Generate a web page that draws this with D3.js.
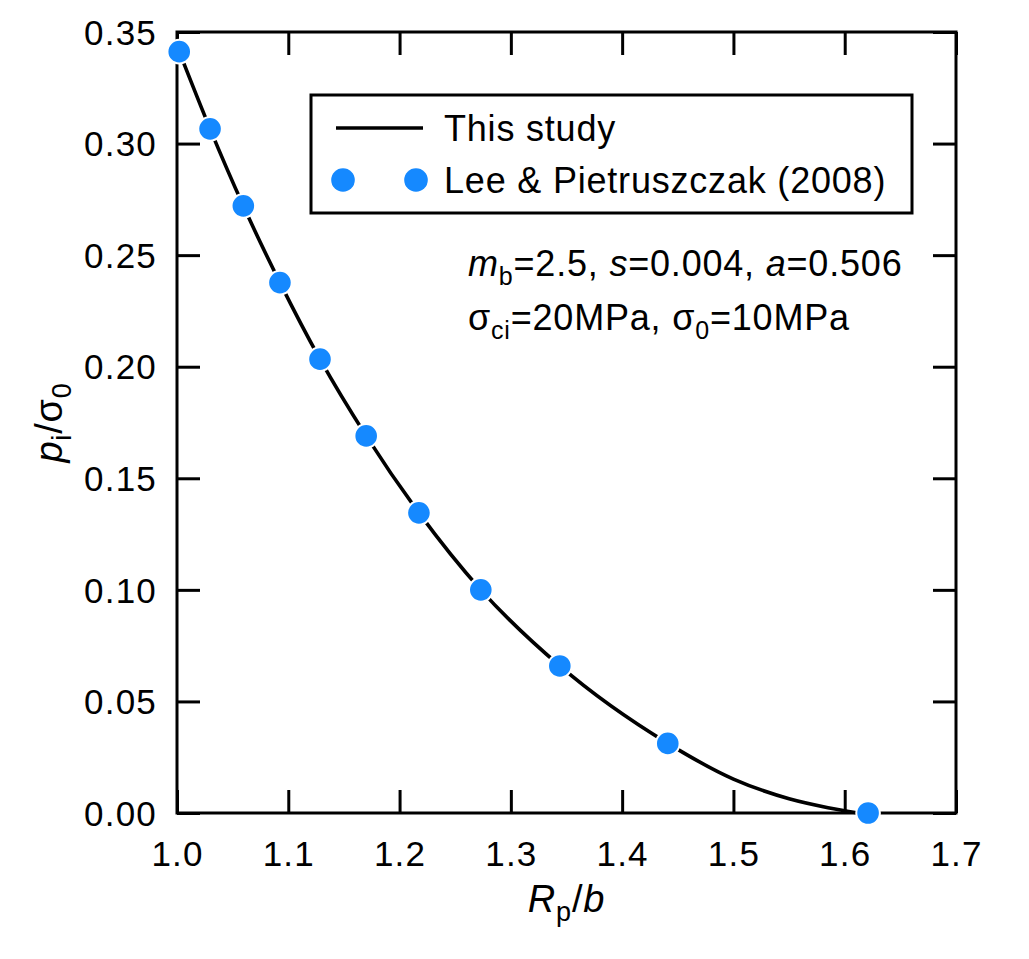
<!DOCTYPE html>
<html>
<head>
<meta charset="utf-8">
<script src="https://cdn.jsdelivr.net/npm/d3@7"></script>
<style>
  html, body { margin: 0; padding: 0; background: #fff; }
  svg { display: block; font-family: "Liberation Sans", Arial, sans-serif; }
</style>
</head>
<body>
<svg id="chart" width="1029" height="959"></svg>
<script>
// ---- data ----
const leeX = [1.002, 1.0297, 1.0596, 1.0925, 1.1285, 1.170, 1.2174, 1.273, 1.344, 1.441, 1.621];
const leeY = [0.3412, 0.3066, 0.2721, 0.2377, 0.2034, 0.169, 0.1345, 0.100, 0.0659, 0.0312, 0.000];
const studyX = [1.002, 1.0297, 1.0596, 1.0925, 1.1285, 1.170, 1.2174, 1.273, 1.344, 1.441, 1.500, 1.550, 1.585, 1.612];
const studyY = [0.3412, 0.3066, 0.2721, 0.2377, 0.2034, 0.169, 0.1345, 0.100, 0.0659, 0.0312, 0.0152, 0.0064, 0.0024, 0.000];
const xTicks = [1.0, 1.1, 1.2, 1.3, 1.4, 1.5, 1.6, 1.7];
const yTicks = [0.00, 0.05, 0.10, 0.15, 0.20, 0.25, 0.30, 0.35];
const legendLabels = ["This study", "Lee & Pietruszczak (2008)"];

// ---- layout ----
const L = 177, R = 956, T = 32, B = 813;
const blue = "#1589FF";
const svg = d3.select("#chart");
const x = d3.scaleLinear().domain([1.0, 1.7]).range([L, R]);
const y = d3.scaleLinear().domain([0, 0.35]).range([B, T]);
const tickLen = 23;

// axes (inward ticks on all sides)
const fmtX = d3.format(".1f"), fmtY = d3.format(".2f");
const axB = svg.append("g").attr("transform", `translate(0,${B})`)
  .call(d3.axisBottom(x).tickValues(xTicks).tickSize(-tickLen).tickPadding(20).tickFormat(fmtX));
const axT = svg.append("g").attr("transform", `translate(0,${T})`)
  .call(d3.axisTop(x).tickValues(xTicks).tickSize(-tickLen).tickFormat(""));
const axL = svg.append("g").attr("transform", `translate(${L},0)`)
  .call(d3.axisLeft(y).tickValues(yTicks).tickSize(-tickLen).tickPadding(20).tickFormat(fmtY));
const axR = svg.append("g").attr("transform", `translate(${R},0)`)
  .call(d3.axisRight(y).tickValues(yTicks).tickSize(-tickLen).tickFormat(""));
[axB, axT, axL, axR].forEach(g => {
  g.select(".domain").remove();
  g.selectAll(".tick line").attr("stroke", "#000").attr("stroke-width", 3);
  g.selectAll(".tick text").attr("fill", "#000").style("font-size", "35px")
   .style("letter-spacing", "1.2px")
   .style("font-family", "'Liberation Sans', Arial, sans-serif");
});
axB.selectAll(".tick text").attr("dy", "0").attr("y", 53);
axL.selectAll(".tick text").attr("dy", "0.35em");

// frame
svg.append("rect").attr("x", L).attr("y", T).attr("width", R - L).attr("height", B - T)
  .attr("fill", "none").attr("stroke", "#000").attr("stroke-width", 3);

// curve
const studyData = studyX.map((v, i) => [v, studyY[i]]);
svg.append("path").datum(studyData)
  .attr("fill", "none").attr("stroke", "#000").attr("stroke-width", 3.6)
  .attr("d", d3.line().x(d => x(d[0])).y(d => y(d[1])).curve(d3.curveMonotoneX));

// dots
const leeData = leeX.map((v, i) => [v, leeY[i]]);
svg.append("g").selectAll("circle").data(leeData).join("circle")
  .attr("cx", d => x(d[0])).attr("cy", d => y(d[1])).attr("r", 11.8)
  .attr("fill", blue).attr("stroke", "#fff").attr("stroke-width", 2);

// legend
const lg = svg.append("g").style("font-size", "36px").style("letter-spacing", "0.8px");
lg.append("rect").attr("x", 311).attr("y", 95).attr("width", 601).attr("height", 118)
  .attr("fill", "#fff").attr("stroke", "#000").attr("stroke-width", 3);
lg.append("line").attr("x1", 336).attr("x2", 423).attr("y1", 128).attr("y2", 128)
  .attr("stroke", "#000").attr("stroke-width", 3.6);
[343, 416].forEach(cx => lg.append("circle").attr("cx", cx).attr("cy", 180).attr("r", 11.8).attr("fill", blue));
lg.append("text").attr("x", 444).attr("y", 141).text(legendLabels[0]);
lg.append("text").attr("x", 444).attr("y", 193).text(legendLabels[1]);

// annotation
const a1 = svg.append("text").attr("x", 468).attr("y", 276).style("font-size", "36px").style("letter-spacing", "0.8px");
a1.append("tspan").style("font-style", "italic").text("m");
a1.append("tspan").attr("dy", 9).style("font-size", "25px").text("b");
a1.append("tspan").attr("dy", -9).text("=2.5, ");
a1.append("tspan").style("font-style", "italic").text("s");
a1.append("tspan").text("=0.004, ");
a1.append("tspan").style("font-style", "italic").text("a");
a1.append("tspan").text("=0.506");

const a2 = svg.append("text").attr("x", 468).attr("y", 330).style("font-size", "36px").style("letter-spacing", "0.8px");
a2.append("tspan").text("σ");
a2.append("tspan").attr("dy", 9).style("font-size", "25px").text("ci");
a2.append("tspan").attr("dy", -9).text("=20MPa, σ");
a2.append("tspan").attr("dy", 9).style("font-size", "25px").text("0");
a2.append("tspan").attr("dy", -9).text("=10MPa");

// axis titles
const xt = svg.append("text").attr("x", (L + R) / 2).attr("y", 912).attr("text-anchor", "middle")
  .style("font-size", "38px").style("letter-spacing", "0.8px");
xt.append("tspan").style("font-style", "italic").text("R");
xt.append("tspan").attr("dy", 9).style("font-size", "27px").text("p");
xt.append("tspan").attr("dy", -9).text("/");
xt.append("tspan").style("font-style", "italic").text("b");

const yt = svg.append("text").attr("transform", `translate(62,${(T + B) / 2}) rotate(-90)`)
  .attr("text-anchor", "middle").style("font-size", "38px").style("letter-spacing", "0.8px");
yt.append("tspan").style("font-style", "italic").text("p");
yt.append("tspan").attr("dy", 9).style("font-size", "27px").text("i");
yt.append("tspan").attr("dy", -9).text("/σ");
yt.append("tspan").attr("dy", 9).style("font-size", "27px").text("0");
</script>
</body>
</html>
